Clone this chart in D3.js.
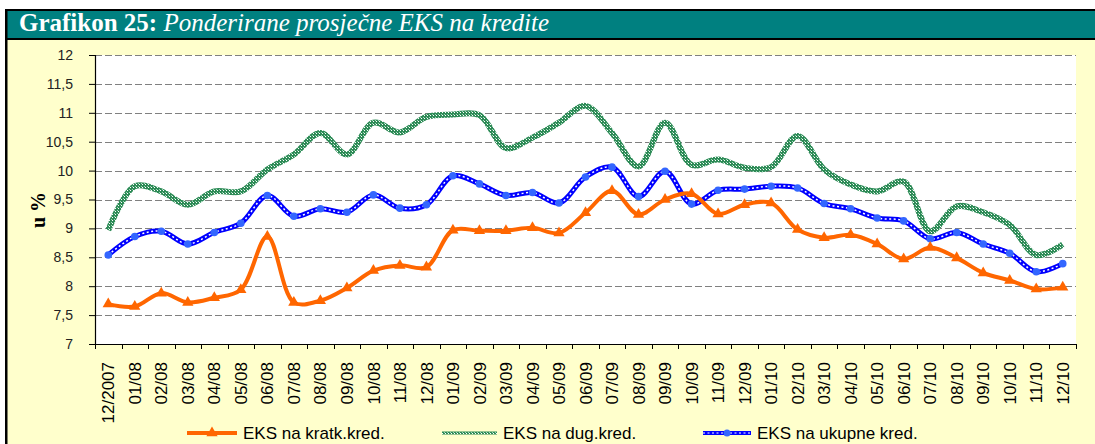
<!DOCTYPE html>
<html><head><meta charset="utf-8">
<script src="https://cdn.jsdelivr.net/npm/d3@7"></script>
<style>html,body{margin:0;padding:0;background:#fff;}svg{display:block;}</style>
</head><body>
<svg id="chart" width="1095" height="444"></svg>
<script>
const categories = ["12/2007","01/08","02/08","03/08","04/08","05/08","06/08","07/08","08/08","09/08","10/08","11/08","12/08",
  "01/09","02/09","03/09","04/09","05/09","06/09","07/09","08/09","09/09","10/09","11/09","12/09",
  "01/10","02/10","03/10","04/10","05/10","06/10","07/10","08/10","09/10","10/10","11/10","12/10"];
const kratkoročni = [7.69,7.65,7.88,7.72,7.80,7.94,8.86,7.72,7.75,7.97,8.27,8.36,8.33,
  8.97,8.96,8.96,9.01,8.92,9.27,9.65,9.24,9.50,9.60,9.25,9.41,
  9.44,8.98,8.84,8.89,8.73,8.47,8.67,8.49,8.23,8.10,7.95,7.98];
const dugoročni = [8.97,9.73,9.64,9.41,9.64,9.64,10.02,10.28,10.65,10.28,10.83,10.66,10.93,
  10.97,10.96,10.39,10.57,10.83,11.12,10.65,10.07,10.83,10.10,10.19,10.05,
  10.06,10.60,10.02,9.76,9.64,9.81,8.95,9.38,9.28,9.06,8.54,8.72];
const ukupni = [8.54,8.86,8.95,8.73,8.93,9.09,9.57,9.21,9.34,9.28,9.58,9.35,9.41,
  9.91,9.77,9.57,9.62,9.44,9.89,10.06,9.55,9.99,9.42,9.66,9.68,
  9.73,9.70,9.43,9.34,9.18,9.13,8.82,8.93,8.73,8.57,8.25,8.39];
const yTicks = [7,7.5,8,8.5,9,9.5,10,10.5,11,11.5,12];
const seriesNames = ["EKS na kratk.kred.","EKS na dug.kred.","EKS na ukupne kred."];
const titleBold = "Grafikon 25:";
const titleItalic = "Ponderirane prosječne EKS na kredite";
const yAxisTitle = "u %";

const svg = d3.select("#chart");
const W = 1095, H = 444;
const plot = {left:95, right:1076, top:55, bottom:344};

// panel background & frame
svg.append("rect").attr("x",6).attr("y",9).attr("width",W-6).attr("height",H-9).attr("fill","#FFFFCC");
svg.append("rect").attr("x",6).attr("y",11).attr("width",W-6).attr("height",27).attr("fill","#008080");
svg.append("rect").attr("x",6).attr("y",9).attr("width",W-6).attr("height",2).attr("fill","#000");
svg.append("rect").attr("x",6).attr("y",38).attr("width",W-6).attr("height",2).attr("fill","#000");
svg.append("rect").attr("x",5).attr("y",9).attr("width",2.5).attr("height",H-9).attr("fill","#000");

const title = svg.append("text").attr("x",19).attr("y",31)
  .attr("font-family","'Liberation Serif','Times New Roman',serif").attr("font-size",25).attr("fill","#fff");
title.append("tspan").attr("font-weight","bold").text(titleBold + " ");
title.append("tspan").attr("font-style","italic").text(titleItalic);

// plot area
svg.append("rect").attr("x",plot.left).attr("y",plot.top).attr("width",plot.right-plot.left).attr("height",plot.bottom-plot.top).attr("fill","#fff");

const x = d3.scaleBand().domain(categories).range([plot.left, plot.right]);
const y = d3.scaleLinear().domain([7,12]).range([plot.bottom, plot.top]);
const cx = d => x(d) + x.bandwidth()/2;

// gridlines
svg.append("g").selectAll("line").data(yTicks.filter(v => v > 7)).join("line")
  .attr("x1",plot.left).attr("x2",plot.right)
  .attr("y1",d => Math.round(y(d))+0.5).attr("y2",d => Math.round(y(d))+0.5)
  .attr("stroke","#808080").attr("stroke-width",1.2).attr("stroke-dasharray","7,3");

// y axis
const yAxis = svg.append("g").attr("transform",`translate(${plot.left},0)`)
  .call(d3.axisLeft(y).tickValues(yTicks).tickSize(6).tickPadding(16)
    .tickFormat(d => String(d).replace(".", ",")));
yAxis.select(".domain").attr("stroke","#000").attr("stroke-width",1.2).attr("d",`M0.5,${plot.top}V${plot.bottom}`);
yAxis.selectAll(".tick line").attr("stroke","#000");
yAxis.selectAll("text").attr("font-family","'Liberation Sans',Arial,sans-serif").attr("font-size",14).attr("fill","#222");

// x axis
const xAxis = svg.append("g").attr("transform",`translate(0,${plot.bottom})`)
  .call(d3.axisBottom(x).tickSize(0));
xAxis.select(".domain").attr("stroke","#000").attr("stroke-width",1.2).attr("d",`M${plot.left - 6},0.5H${plot.right}`);
xAxis.selectAll(".tick text")
  .attr("transform","rotate(-90)").attr("x",-18).attr("y",0).attr("dy","0.36em")
  .style("text-anchor","end")
  .attr("font-family","'Liberation Sans',Arial,sans-serif").attr("font-size",17).attr("fill","#000");
const bounds = categories.map(c => x(c)).concat([x.range()[1]]);
xAxis.append("g").selectAll("line").data(bounds).join("line")
  .attr("x1",d => Math.round(d)+0.5).attr("x2",d => Math.round(d)+0.5).attr("y1",0).attr("y2",5).attr("stroke","#000");

// y axis title
svg.append("text").attr("transform","translate(45,210) rotate(-90)")
  .attr("text-anchor","middle").attr("font-family","'Liberation Serif','Times New Roman',serif")
  .attr("font-size",20).attr("font-weight","bold").attr("fill","#000").text(yAxisTitle);

// patterns
const defs = svg.append("defs");
const pat = defs.append("pattern").attr("id","checker").attr("patternUnits","userSpaceOnUse").attr("width",3).attr("height",3);
pat.append("rect").attr("width",3).attr("height",3).attr("fill","#2E8B57");
pat.append("rect").attr("x",1).attr("y",1).attr("width",1).attr("height",1).attr("fill","#ffffff");
pat.append("rect").attr("x",0).attr("y",0).attr("width",1).attr("height",1).attr("fill","#9fd6b8");

const line = d3.line().x((d,i) => cx(categories[i])).y(d => y(d)).curve(d3.curveCatmullRom.alpha(0.5));
const g = svg.append("g");

// green long-term
g.append("path").attr("d",line(dugoročni)).attr("fill","none").attr("stroke","url(#checker)").attr("stroke-width",6).attr("stroke-linejoin","round");

// blue total
g.append("path").attr("d",line(ukupni)).attr("fill","none").attr("stroke","#0000FF").attr("stroke-width",5).attr("stroke-linejoin","round");
g.append("path").attr("d",line(ukupni)).attr("fill","none").attr("stroke","#fff").attr("stroke-width",1.5).attr("stroke-dasharray","2,2.5");
g.append("g").selectAll("circle").data(ukupni).join("circle")
  .attr("cx",(d,i) => cx(categories[i])).attr("cy",d => y(d)).attr("r",3.8).attr("fill","#3366FF");

// orange short-term
g.append("path").attr("d",line(kratkoročni)).attr("fill","none").attr("stroke","#FF6600").attr("stroke-width",4).attr("stroke-linejoin","round");
const tri = d3.symbol().type(d3.symbolTriangle).size(55);
g.append("g").selectAll("path").data(kratkoročni).join("path")
  .attr("d",tri).attr("transform",(d,i) => `translate(${cx(categories[i])},${y(d)})`).attr("fill","#FF6600");

// legend
const legendItems = [
  {name:seriesNames[0], x1:187, x2:237, tx:243},
  {name:seriesNames[1], x1:442, x2:497, tx:503},
  {name:seriesNames[2], x1:703, x2:751, tx:757}
];
const ly = 433;
const lg = svg.append("g");
lg.append("line").attr("x1",legendItems[0].x1).attr("x2",legendItems[0].x2).attr("y1",ly).attr("y2",ly).attr("stroke","#FF6600").attr("stroke-width",4);
lg.append("path").attr("d",tri).attr("transform",`translate(${(legendItems[0].x1+legendItems[0].x2)/2},${ly})`).attr("fill","#FF6600");
lg.append("rect").attr("x",legendItems[1].x1).attr("y",ly-1.5).attr("width",legendItems[1].x2-legendItems[1].x1).attr("height",3).attr("fill","url(#checker)");
lg.append("line").attr("x1",legendItems[2].x1).attr("x2",legendItems[2].x2).attr("y1",ly).attr("y2",ly).attr("stroke","#0000FF").attr("stroke-width",4);
lg.append("line").attr("x1",legendItems[2].x1).attr("x2",legendItems[2].x2).attr("y1",ly).attr("y2",ly).attr("stroke","#fff").attr("stroke-width",1.2).attr("stroke-dasharray","2,2.5");
lg.append("circle").attr("cx",(legendItems[2].x1+legendItems[2].x2)/2).attr("cy",ly).attr("r",3.5).attr("fill","#3366FF");
lg.selectAll("text").data(legendItems).join("text")
  .attr("x",d => d.tx).attr("y",ly+6).attr("font-family","'Liberation Sans',Arial,sans-serif").attr("font-size",17).attr("fill","#000")
  .text(d => d.name);
</script>
</body></html>
